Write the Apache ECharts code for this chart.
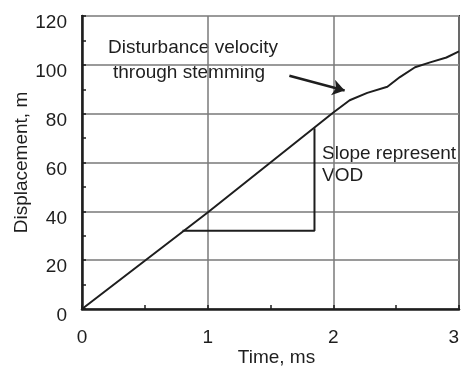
<!DOCTYPE html>
<html>
<head>
<meta charset="utf-8">
<script src="https://cdn.jsdelivr.net/npm/echarts@6/dist/echarts.min.js"></script>
<style>
  html, body { margin: 0; padding: 0; background: #fff; }
  #chart { width: 462px; height: 367px; }
</style>
</head>
<body>
<div id="chart"></div>
<script>
// Displacement of the disturbance front against time
const timeMs = [0, 1, 2, 2.13, 2.27, 2.43, 2.53, 2.65, 2.77, 2.9, 3];
const displacementM = [0, 39.5, 80.5, 85.5, 88.5, 91, 95, 99, 101, 103, 105.5];

const slopeTime = [0.8, 1.85, 1.85];
const slopeDisp = [32, 32, 74];

// Arrow pointing at the curve
const arrowTime = [1.65, 2.09];
const arrowDisp = [95.5, 89.5];

const xTicks = [0, 1, 2, 3];
const yTicks = [0, 20, 40, 60, 80, 100, 120];

const font = 'Liberation Sans, Arial, sans-serif';
const ink = '#1e1e1e';

const pair = (xs, ys) => xs.map((x, i) => [x, ys[i]]);

const chart = echarts.init(document.getElementById('chart'), null, { renderer: 'canvas' });

chart.setOption({
  animation: false,
  backgroundColor: '#fff',
  grid: {
    left: 82, right: 3, top: 16, bottom: 58,
    outerBoundsMode: 'none',
    containLabel: false,
    show: true, borderColor: '#3a3a3a', borderWidth: 2
  },
  xAxis: {
    type: 'value',
    min: xTicks[0], max: xTicks[xTicks.length - 1], interval: 1,
    name: 'Time, ms',
    nameLocation: 'middle',
    nameGap: 39,
    nameMoveOverlap: false,
    nameTextStyle: { fontFamily: font, fontSize: 19, color: ink, padding: [0, 0, 0, 12] },
    axisLine: { show: true, lineStyle: { color: ink, width: 2.5 } },
    axisTick: { show: true, inside: true, length: 4, lineStyle: { color: ink, width: 1.5 } },
    minorTick: { show: true, splitNumber: 2, length: 4, lineStyle: { color: ink, width: 1.5 } },
    axisLabel: {
      fontFamily: font, fontSize: 19, color: ink, margin: 19,
      alignMaxLabel: 'right',
      formatter: v => xTicks.includes(v) ? String(v) : ''
    },
    splitLine: { show: true, lineStyle: { color: '#7a7a7a', width: 1.5 } }
  },
  yAxis: {
    type: 'value',
    min: yTicks[0], max: yTicks[yTicks.length - 1], interval: 20,
    name: 'Displacement, m',
    nameLocation: 'middle',
    nameGap: 51,
    nameMoveOverlap: false,
    nameTextStyle: { fontFamily: font, fontSize: 19, color: ink },
    axisLine: { show: true, lineStyle: { color: ink, width: 2.5 } },
    axisTick: { show: true, inside: true, length: 4, lineStyle: { color: ink, width: 1.5 } },
    minorTick: { show: true, splitNumber: 2, length: 4, lineStyle: { color: ink, width: 1.5 } },
    axisLabel: {
      fontFamily: font, fontSize: 19, color: ink, margin: 15,
      verticalAlign: 'top', lineHeight: 14,
      formatter: v => yTicks.includes(v) ? String(v) : ''
    },
    splitLine: { show: true, lineStyle: { color: '#9a9a9a', width: 2 } }
  },
  series: [
    {
      type: 'line',
      data: pair(timeMs, displacementM),
      showSymbol: false,
      lineStyle: { color: ink, width: 2 },
      z: 5
    },
    {
      type: 'line',
      data: pair(slopeTime, slopeDisp),
      showSymbol: false,
      lineStyle: { color: ink, width: 2 },
      z: 4
    },
    {
      type: 'lines',
      coordinateSystem: 'cartesian2d',
      polyline: false,
      symbol: ['none', 'arrow'],
      symbolSize: 12,
      lineStyle: { color: ink, width: 2.5, opacity: 1 },
      data: [{ coords: pair(arrowTime, arrowDisp) }],
      z: 6
    }
  ],
  graphic: [
    {
      type: 'text', left: 108, top: 38,
      style: { text: 'Disturbance velocity', font: '19px ' + font, fill: ink }
    },
    {
      type: 'text', left: 113, top: 63,
      style: { text: 'through stemming', font: '19px ' + font, fill: ink }
    },
    {
      type: 'text', left: 322, top: 144,
      style: { text: 'Slope represent', font: '19px ' + font, fill: ink }
    },
    {
      type: 'text', left: 322, top: 166,
      style: { text: 'VOD', font: '19px ' + font, fill: ink }
    }
  ]
});
</script>
</body>
</html>
